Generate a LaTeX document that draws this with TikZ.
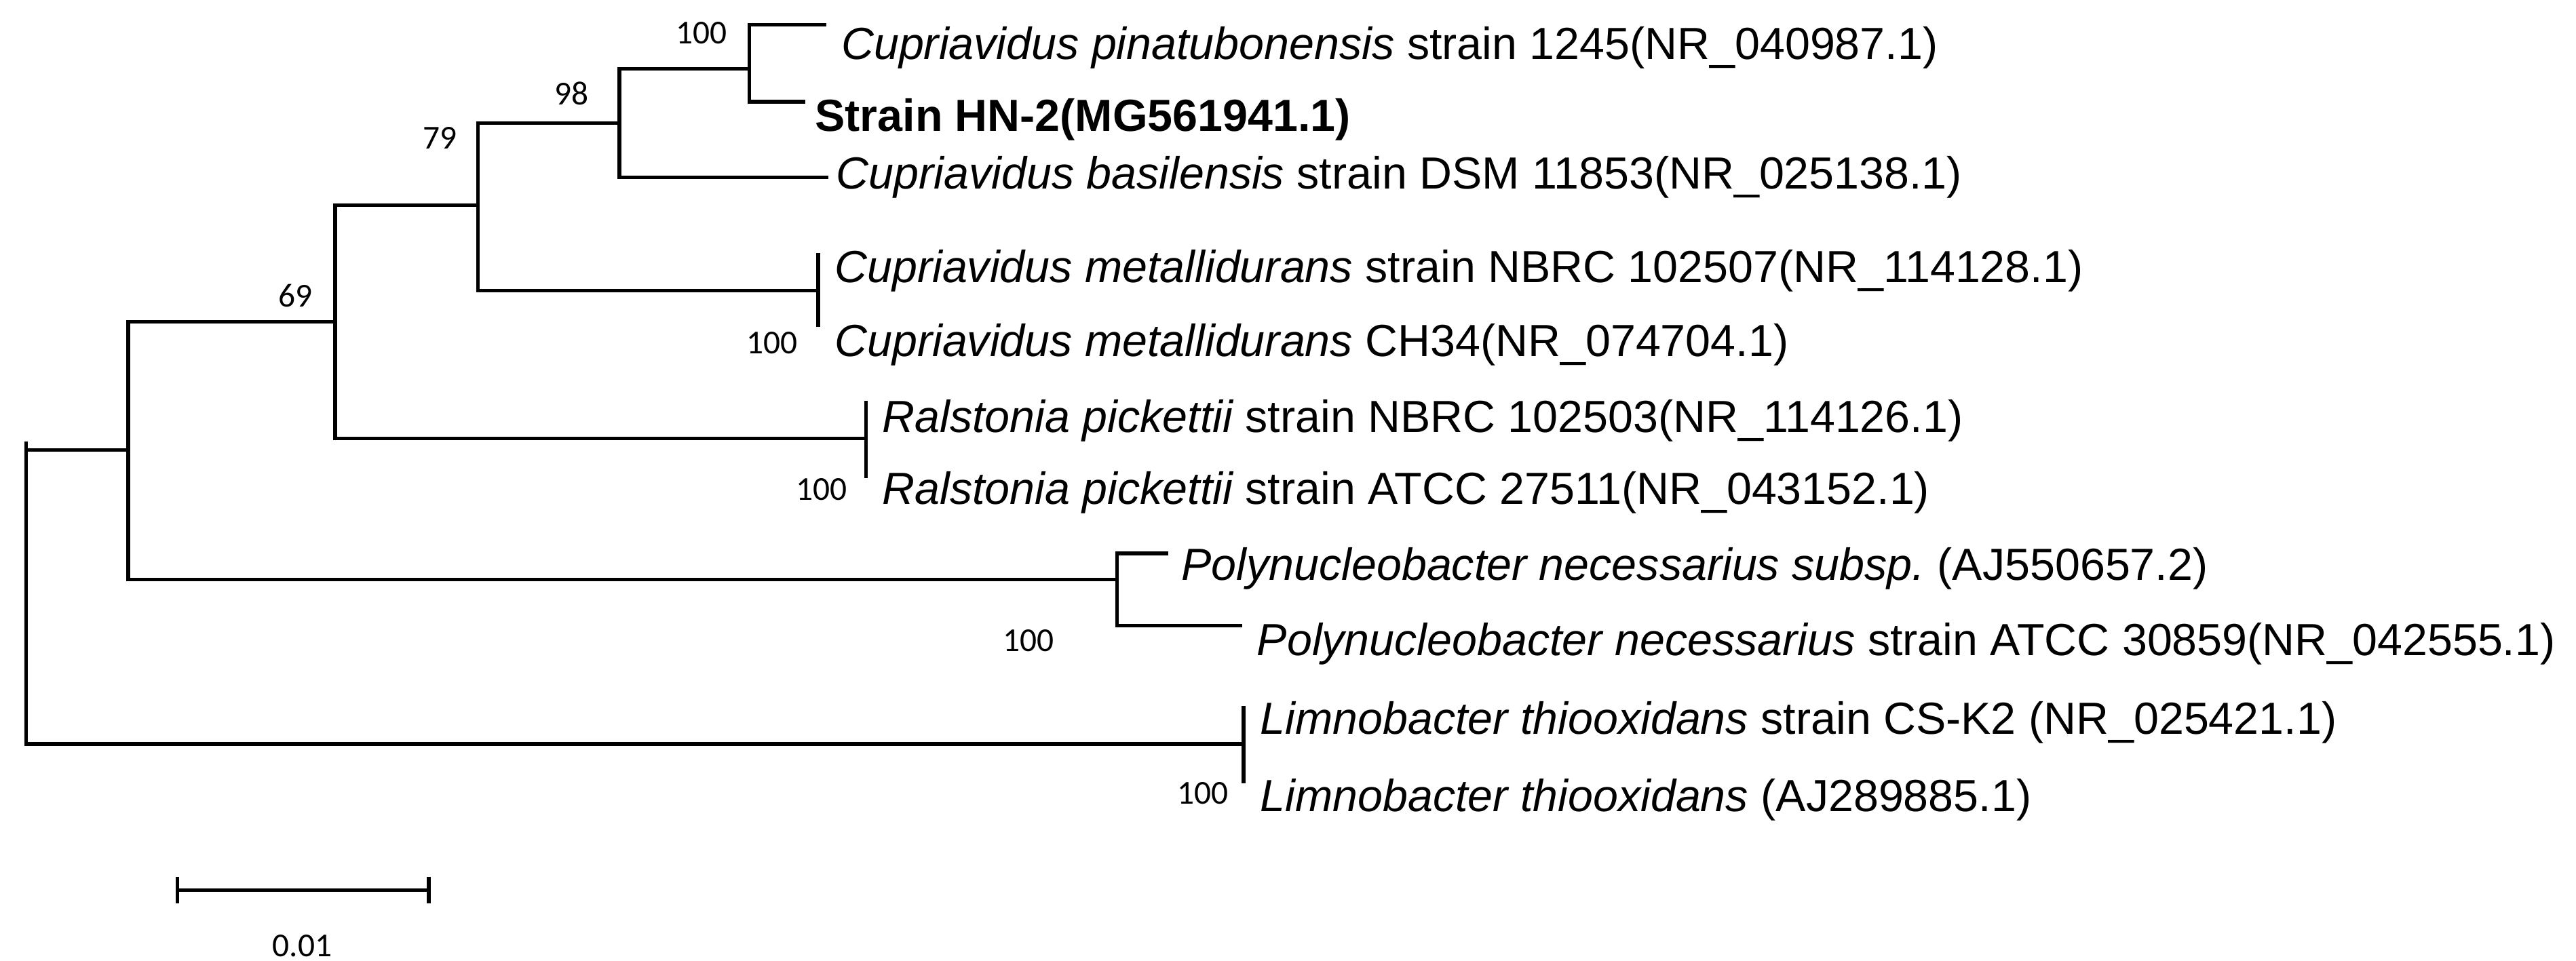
\documentclass[tikz,border=0pt]{standalone}
\usepackage{fontspec}
\setmainfont{Liberation Sans}
\newfontfamily\bsfont{Carlito}
\begin{document}
\begin{tikzpicture}[x=0.05cm,y=-0.05cm,
  br/.style={line width=0.11cm,line cap=rect},
  tip/.style={anchor=west,inner sep=0pt,font=\fontsize{39}{41}\selectfont},
  bs/.style={inner sep=0pt,font=\bsfont\fontsize{29}{31}\selectfont}]
\useasboundingbox (0,0) rectangle (1568,585);
% internal nodes
\coordinate (r) at (16,361);
\coordinate (a) at (78,274);
\coordinate (n69) at (204,196);
\coordinate (n79) at (291,125);
\coordinate (n98) at (377,75);
\coordinate (n100) at (456,38);
\coordinate (nm) at (498,177);
\coordinate (nr) at (527,267);
\coordinate (np) at (680,359);
\coordinate (nl) at (757,453);
% tips
\coordinate (t1) at (502,15);
\coordinate (t2) at (489,62);
\coordinate (t3) at (503,108);
\coordinate (tp1) at (710,337);
\coordinate (tp2) at (755,381);
\draw[br] (16,270) -- (16,453);
\draw[br] (r|-a) -- (a);
\draw[br] (16,453) -- (nl);
\draw[br] (78,196) -- (78,353);
\draw[br] (78,196) -- (n69);
\draw[br] (78,353) -- (680,353);
\draw[br] (204,125) -- (204,267);
\draw[br] (204,125) -- (n79);
\draw[br] (204,267) -- (nr);
\draw[br] (291,75) -- (291,177);
\draw[br] (291,75) -- (n98);
\draw[br] (291,177) -- (nm);
\draw[br] (377,42) -- (377,108);
\draw[br] (377,42) -- (456,42);
\draw[br] (377,108) -- (t3);
\draw[br] (456,15) -- (456,62);
\draw[br] (456,15) -- (t1);
\draw[br] (456,62) -- (t2);
\draw[br] (498,155) -- (498,198);
\draw[br] (527,245) -- (527,290);
\draw[br] (680,337) -- (680,381);
\draw[br] (680,337) -- (tp1);
\draw[br] (680,381) -- (tp2);
\draw[br] (757,431) -- (757,476);
% labels
\node[tip] (l1) at (512,29) {\itshape Cupriavidus pinatubonensis\upshape\ strain 1245(NR\_040987.1)};
\node[tip] (l2) at (496,73) {\bfseries Strain HN-2(MG561941.1)};
\node[tip] (l3) at (509,108) {\itshape Cupriavidus basilensis\upshape\ strain DSM 11853(NR\_025138.1)};
\node[tip] (l4) at (508,165) {\itshape Cupriavidus metallidurans\upshape\ strain NBRC 102507(NR\_114128.1)};
\node[tip] (l5) at (508,210) {\itshape Cupriavidus metallidurans\upshape\ CH34(NR\_074704.1)};
\node[tip] (l6) at (537,256) {\itshape Ralstonia pickettii\upshape\ strain NBRC 102503(NR\_114126.1)};
\node[tip] (l7) at (537,300) {\itshape Ralstonia pickettii\upshape\ strain ATCC 27511(NR\_043152.1)};
\node[tip] (l8) at (719,346) {\itshape Polynucleobacter necessarius subsp.\upshape\ (AJ550657.2)};
\node[tip] (l9) at (765,392) {\itshape Polynucleobacter necessarius\upshape\ strain ATCC 30859(NR\_042555.1)};
\node[tip] (l10) at (767,440) {\itshape Limnobacter thiooxidans\upshape\ strain CS-K2 (NR\_025421.1)};
\node[tip] (l11) at (767,487) {\itshape Limnobacter thiooxidans\upshape\ (AJ289885.1)};
% bootstrap
\node[bs] (b1) at (427,20) {100};
\node[bs] (b2) at (348,57) {98};
\node[bs] (b3) at (268,84) {79};
\node[bs] (b4) at (180,180) {69};
\node[bs] (b5) at (470,209) {100};
\node[bs] (b6) at (500,298) {100};
\node[bs] (b7) at (626,390) {100};
\node[bs] (b8) at (732,483) {100};
% scale bar
\coordinate (s1) at (108,542);
\coordinate (s2) at (261,542);
\draw[br] (s1) -- (s2);
\draw[br] (108,535) -- (108,549);
\draw[br] (261,535) -- (261,549);
\node[bs] (sl) at (184,576) {0.01};
\end{tikzpicture}
\end{document}
